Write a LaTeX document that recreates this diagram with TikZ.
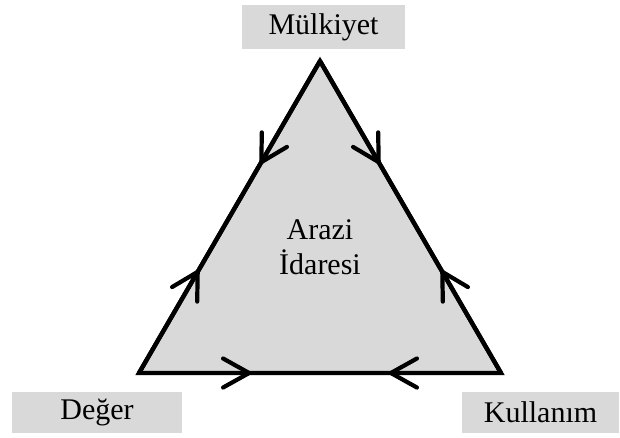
\documentclass[tikz,border=0pt]{standalone}
\usepackage{fontspec}
\setmainfont{Liberation Serif}
\usetikzlibrary{arrows.meta,decorations.markings}
\definecolor{panel}{RGB}{217,217,217}
\tikzset{
  big text/.style={font=\fontsize{30}{35}\selectfont},
  label box/.style={big text, fill=panel, inner sep=0pt},
  edge/.style={line width=4.3pt, line join=miter},
  barb/.tip={Straight Barb[length=26pt, width=29pt, line width=4.2pt, round]},
  inward marks/.style={postaction={decorate, decoration={markings,
      mark=at position #1 with {\arrow{barb}},
      mark=at position 1-#1 with {\arrowreversed{barb}}}}}
}
\begin{document}
\begin{tikzpicture}[x=1pt, y=-1pt]
  \useasboundingbox (0,0) rectangle (620,437);

  % corners of the triangle
  \coordinate (top) at (320,61);
  \coordinate (bl)  at (139,373);
  \coordinate (br)  at (501,373);

  \fill[panel] (top) -- (bl) -- (br) -- cycle;
  \draw[edge, inward marks=0.33] (top) -- (bl);
  \draw[edge, inward marks=0.33] (top) -- (br);
  \draw[edge, inward marks=0.31] (bl) -- (br);
  \draw[edge] (bl) -- (top) -- (br) -- (bl) -- cycle;

  \node[big text, align=center] (core) at (320,247) {Arazi\\İdaresi};

  % labels of the three corners
  \node[label box, minimum width=163pt, minimum height=44pt] (own) at (323.5,27) {Mülkiyet};
  \node[label box, minimum width=170pt, minimum height=41pt] (value) at (97,412.5) {Değer};
  \node[label box, minimum width=157pt, minimum height=41pt] (use) at (540.5,412.5) {Kullanım};
\end{tikzpicture}
\end{document}
